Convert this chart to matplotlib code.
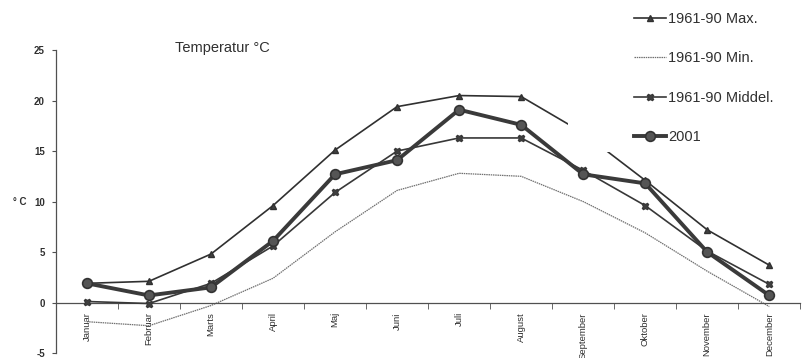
import matplotlib.pyplot as plt
from matplotlib.patches import Rectangle
import numpy as np

months = ["Januar", "Februar", "Marts", "April", "Maj", "Juni", "Juli",
          "August", "September", "Oktober", "November", "December"]

max_6190 = [1.9, 2.1, 4.8, 9.6, 15.1, 19.4, 20.5, 20.4, 16.8, 12.1, 7.2, 3.7]
min_6190 = [-1.9, -2.3, -0.3, 2.4, 7.0, 11.1, 12.8, 12.5, 10.0, 6.9, 3.1, -0.4]
mid_6190 = [0.1, -0.1, 1.9, 5.6, 10.9, 15.0, 16.3, 16.3, 13.1, 9.6, 5.1, 1.8]
temp_2001 = [1.9, 0.7, 1.5, 6.1, 12.7, 14.1, 19.1, 17.6, 12.7, 11.8, 5.0, 0.7]

yticks = [-5, 0, 5, 10, 15, 20, 25]

plt.rcParams['font.family'] = ['Liberation Sans', 'DejaVu Sans']

fig = plt.figure(figsize=(8.1, 3.58), dpi=100)
ax = fig.add_axes([0.069, 0.014, 0.919, 0.846])

x = np.arange(len(months))
ax.plot(x, max_6190, color='#303030', lw=1.2, marker='^', ms=5,
        mfc='#404040', mec='#303030', label='1961-90 Max.', zorder=3)
ax.plot(x, min_6190, color='#707070', lw=0.9, ls=(0, (1.2, 0.6)),
        label='1961-90 Min.', zorder=2)
ax.plot(x, mid_6190, color='#383838', lw=1.2, marker='X', ms=4.5,
        mfc='#404040', mec='#383838', label='1961-90 Middel.', zorder=3)
ax.plot(x, temp_2001, color='#3a3a3a', lw=2.8, marker='o', ms=7,
        mfc='#555555', mec='#333333', mew=1.2, label='2001', zorder=4)

ax.set_xlim(-0.5, len(months) - 0.5)
ax.set_ylim(-5, 25)

# category axis through zero, ticks between the months
ax.spines['bottom'].set_position(('data', 0))
ax.spines['top'].set_visible(False)
ax.spines['right'].set_visible(False)
for s in ('left', 'bottom'):
    ax.spines[s].set_color('#505050')
    ax.spines[s].set_linewidth(0.9)

ax.set_xticks(x)
ax.set_xticklabels(months, rotation=90, va='top', ha='center',
                   fontsize=6.8, color='#303030')
ax.set_xticks(np.arange(-0.5, len(months)), minor=True)
ax.tick_params(axis='x', which='major', length=0, pad=7)
ax.tick_params(axis='x', which='minor', length=4, direction='out',
               color='#505050')

ax.set_yticks(yticks)
ax.set_yticklabels([str(v) for v in yticks], fontsize=7,
                   fontweight='bold', color='#303030')
ax.tick_params(axis='y', length=3, color='#505050', pad=5)

ax.set_ylabel('° C', rotation=0, fontsize=7, fontweight='bold',
              color='#303030', va='center', ha='left')
ax.yaxis.set_label_coords(-0.058, 0.5)

ax.text(0.160, 1.007, 'Temperatur °C', transform=ax.transAxes,
        fontsize=10.5, color='#303030', ha='left', va='center')

# white legend area covering the curves behind it
ax.add_patch(Rectangle((0.701, 0.575), 0.3, 0.43, transform=fig.transFigure,
                       facecolor='white', edgecolor='none', zorder=5,
                       clip_on=False))
leg = ax.legend(loc='upper left', bbox_to_anchor=(0.768, 1.0),
                bbox_transform=fig.transFigure, frameon=False,
                fontsize=10.5, labelspacing=1.75, handlelength=2.2,
                handletextpad=0.15, borderpad=0.3, labelcolor='#303030')
leg.set_zorder(6)

fig.savefig('out.png', dpi=100)
